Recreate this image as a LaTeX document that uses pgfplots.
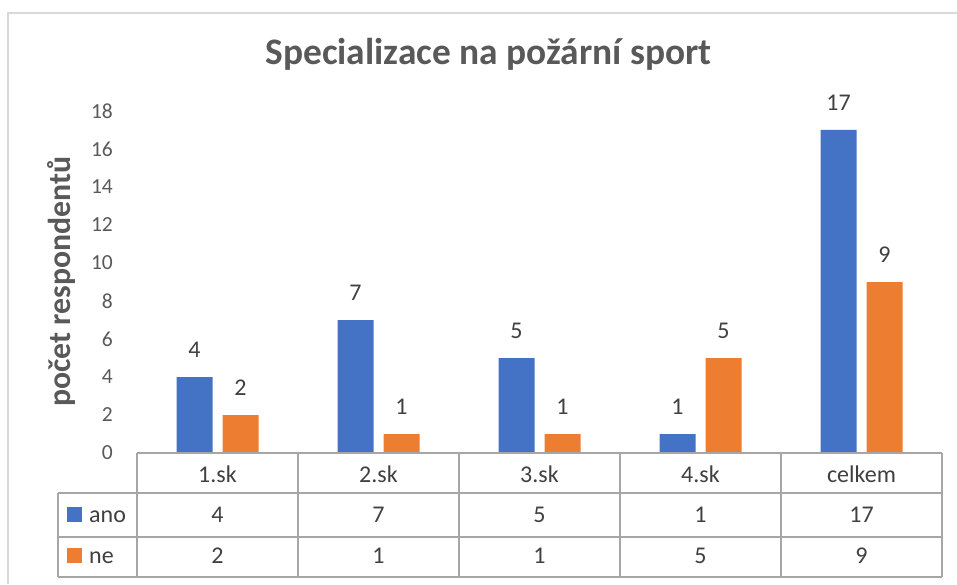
\documentclass[border=0pt]{standalone}
\usepackage{fontspec}
\setmainfont{Carlito}
\usepackage{pgfplots}
\pgfplotsset{compat=1.18}
\definecolor{cblue}{HTML}{4472C4}
\definecolor{corange}{HTML}{ED7D31}
\definecolor{tgray}{HTML}{595959}
\definecolor{tdark}{HTML}{404040}
\definecolor{lgray}{HTML}{A6A6A6}
\definecolor{fgray}{HTML}{D9D9D9}
\begin{document}
\begin{tikzpicture}[x=1pt,y=1pt]
\useasboundingbox (0,0) rectangle (957,584);
\fill[white] (0,0) rectangle (957,584);
\draw[fgray, line width=2pt] (8,0) -- (8,571) -- (957,571);
\begin{axis}[
  at={(137pt,131pt)}, anchor=south west,
  scale only axis, width=805pt, height=342pt,
  xmin=-0.5, xmax=4.5, ymin=0, ymax=18,
  ytick={0,2,...,18},
  xtick={0,1,2,3,4},
  xticklabels={1.sk,2.sk,3.sk,4.sk,celkem},
  axis line style={draw=none},
  major tick length=0pt,
  ybar=10pt, bar width=36pt,
  clip=false,
  /pgf/number format/assume math mode=true,
  yticklabel style={font=\fontsize{21.5}{24}\selectfont, text=tgray, inner sep=0pt, anchor=east, xshift=-24pt},
  xticklabel style={font=\fontsize{24}{28}\selectfont, text=tdark, inner sep=0pt, anchor=base, yshift=-29pt},
  nodes near coords,
  every node near coord/.append style={font=\fontsize{24}{28}\selectfont, text=tdark, inner sep=0pt, anchor=base, yshift=19.5pt},
]
\addplot[fill=cblue, draw=none] coordinates {(0,4) (1,7) (2,5) (3,1) (4,17)};
\addplot[fill=corange, draw=none] coordinates {(0,2) (1,1) (2,1) (3,5) (4,9)};
\end{axis}
% title and axis label
\node[anchor=base, font=\bfseries\fontsize{37.4}{44}\selectfont, text=tgray] at (488.5,519) {Specializace na požární sport};
\node[rotate=90, font=\bfseries\fontsize{31.8}{38}\selectfont, text=tgray] at (61.5,302.5) {počet respondentů};
% data table
\begin{scope}[lgray, line width=1.3pt]
\draw (137,131) -- (942,131);
\draw (58,91) -- (942,91);
\draw (58,47) -- (942,47);
\draw (58,7) -- (942,7);
\draw (58,91) -- (58,7);
\foreach \xx in {137,298,459,620,781,942} {\draw (\xx,131) -- (\xx,7);}
\end{scope}
\fill[cblue] (67,62) rectangle (82,77);
\fill[corange] (67,21) rectangle (82,36);
\begin{scope}[font=\fontsize{24}{28}\selectfont, text=tdark]
\node[anchor=base west, inner sep=0pt] at (89,62) {ano};
\node[anchor=base west, inner sep=0pt] at (89,21) {ne};
\foreach \xx/\a/\n in {217.5/4/2, 378.5/7/1, 539.5/5/1, 700.5/1/5, 861.5/17/9} {
  \node[anchor=base, inner sep=0pt] at (\xx,62) {\a};
  \node[anchor=base, inner sep=0pt] at (\xx,21) {\n};
}
\end{scope}
\end{tikzpicture}
\end{document}
